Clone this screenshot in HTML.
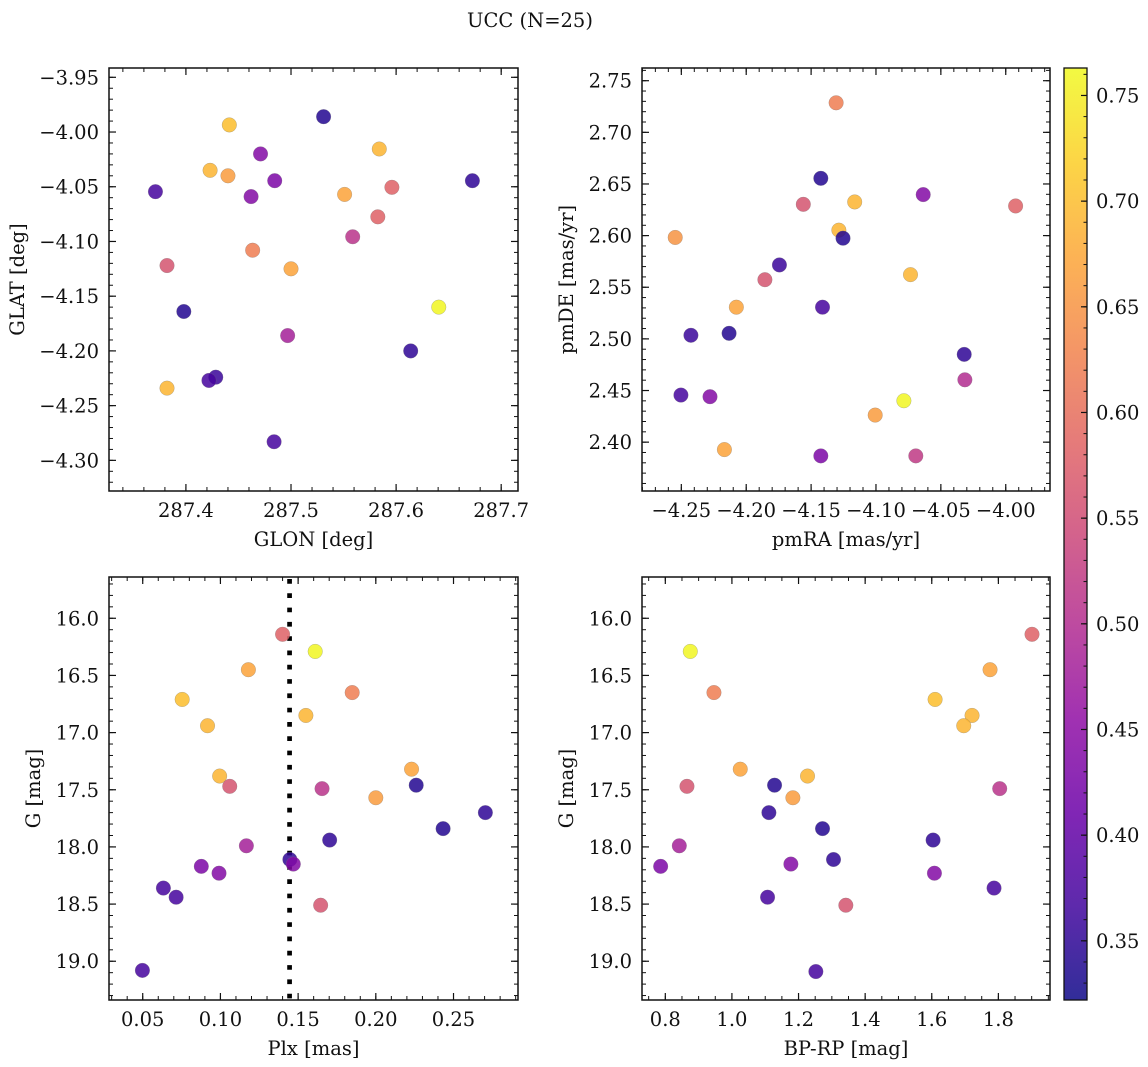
<!DOCTYPE html>
<html><head><meta charset="utf-8"><title>UCC (N=25)</title>
<style>
html,body{margin:0;padding:0;background:#fff;}
svg{display:block;font-family:"DejaVu Serif","Liberation Serif",serif;}
</style></head>
<body>
<svg id="fig" width="1148" height="1067" viewBox="0 0 1148 1067" xmlns="http://www.w3.org/2000/svg">
<text x="530" y="27" text-anchor="middle" font-size="19.5" fill="#111">UCC (N=25)</text>
</svg>
<script>
// ---- Panel 1: GLON / GLAT ----
const glon = [287.4413,287.531,287.584,287.471,287.423,287.440,287.4845,287.371,287.6726,287.596,287.551,287.462,287.5826,287.5587,287.4635,287.382,287.500,287.6406,287.398,287.4968,287.6139,287.4284,287.4219,287.382,287.4839];
const glat = [-3.9935,-3.986,-4.0155,-4.020,-4.035,-4.040,-4.0445,-4.0545,-4.0445,-4.0505,-4.057,-4.059,-4.0775,-4.0957,-4.108,-4.122,-4.125,-4.160,-4.164,-4.186,-4.200,-4.224,-4.227,-4.234,-4.283];
const colPos = [0.70,0.34,0.69,0.44,0.69,0.66,0.43,0.37,0.35,0.58,0.67,0.44,0.58,0.51,0.62,0.56,0.67,0.76,0.34,0.48,0.35,0.36,0.37,0.69,0.37];
const glonTicks = [287.4,287.5,287.6,287.7];
const glatTicks = [-3.95,-4.00,-4.05,-4.10,-4.15,-4.20,-4.25,-4.30];
// ---- Panel 2: pmRA / pmDE ----
const pmra = [-4.1307,-4.1425,-4.0636,-4.1560,-4.1164,-3.9924,-4.2547,-4.1286,-4.1254,-4.1744,-4.1856,-4.0734,-4.2076,-4.1412,-4.2426,-4.2132,-4.0320,-4.0315,-4.2503,-4.2279,-4.0785,-4.1006,-4.2168,-4.1425,-4.0693];
const pmde = [2.7286,2.6555,2.6397,2.6303,2.6326,2.6287,2.5982,2.6053,2.5975,2.5716,2.5573,2.5622,2.5307,2.5307,2.5035,2.5054,2.4850,2.4604,2.4456,2.4440,2.4401,2.4262,2.3928,2.3867,2.3867];
const colPm = [0.62,0.34,0.44,0.56,0.69,0.58,0.65,0.69,0.34,0.36,0.56,0.69,0.67,0.37,0.36,0.34,0.35,0.50,0.37,0.44,0.76,0.66,0.67,0.43,0.52];
const pmraTicks = [-4.25,-4.20,-4.15,-4.10,-4.05,-4.00];
const pmdeTicks = [2.40,2.45,2.50,2.55,2.60,2.65,2.70,2.75];
// ---- Panel 3: Plx / G ----
const plx = [0.140,0.161,0.118,0.0754,0.1848,0.155,0.0917,0.223,0.0995,0.106,0.226,0.1654,0.200,0.2705,0.2433,0.1703,0.1167,0.1447,0.1469,0.0877,0.0991,0.0633,0.0715,0.1645,0.0498];
const gPlx = [16.14,16.29,16.45,16.71,16.65,16.85,16.94,17.32,17.38,17.47,17.46,17.49,17.57,17.70,17.84,17.94,17.99,18.11,18.15,18.17,18.23,18.36,18.44,18.51,19.08];
const colPlx = [0.58,0.76,0.67,0.70,0.62,0.69,0.69,0.67,0.69,0.56,0.34,0.51,0.66,0.35,0.34,0.35,0.48,0.35,0.44,0.43,0.44,0.37,0.37,0.56,0.37];
const plxTicks = [0.05,0.10,0.15,0.20,0.25];
const plxLine = [0.1445];
const gTicks = [16.0,16.5,17.0,17.5,18.0,18.5,19.0];
// ---- Panel 4: BP-RP / G ----
const bprp = [0.875,0.946,0.865,0.842,0.786,1.025,1.128,1.227,1.183,1.111,1.272,1.177,1.305,1.107,1.342,1.252,1.610,1.721,1.696,1.775,1.901,1.804,1.604,1.608,1.787];
const gCmd = [16.29,16.65,17.47,17.99,18.17,17.32,17.46,17.38,17.57,17.70,17.84,18.15,18.11,18.44,18.51,19.09,16.71,16.85,16.94,16.45,16.14,17.49,17.94,18.23,18.36];
const colCmd = [0.76,0.62,0.56,0.48,0.43,0.67,0.34,0.69,0.66,0.35,0.34,0.44,0.35,0.37,0.56,0.37,0.70,0.69,0.69,0.67,0.58,0.51,0.35,0.44,0.37];
const bprpTicks = [0.8,1.0,1.2,1.4,1.6,1.8];
// ---- Colorbar ----
const cbTicks = [0.35,0.40,0.45,0.50,0.55,0.60,0.65,0.70,0.75];
const cbRange = [0.322,0.763];

const FS = 19.5;
const NS = "http://www.w3.org/2000/svg";
const svg = document.getElementById('fig');
function el(tag, attrs, parent){
  const e = document.createElementNS(NS, tag);
  for (const k in attrs) e.setAttribute(k, attrs[k]);
  (parent || svg).appendChild(e);
  return e;
}
const plasma = ["#0d0887","#41049d","#6a00a8","#8f0da4","#b12a90","#cc4778","#e16462","#f2844b","#fca636","#fcce25","#f0f921"];
function hex(h){return [parseInt(h.slice(1,3),16),parseInt(h.slice(3,5),16),parseInt(h.slice(5,7),16)];}
function cmap(v){
  let t = (v - cbRange[0])/(cbRange[1]-cbRange[0]);
  t = Math.max(0, Math.min(1, t));
  const f = t*10, i = Math.min(9, Math.floor(f)), r = f - i;
  const a = hex(plasma[i]), b = hex(plasma[i+1]);
  return "rgb(" + a.map((c,j)=>Math.round(c+(b[j]-c)*r)).join(",") + ")";
}
function fmt(v, d){ const s = Math.abs(v).toFixed(d); return (v < -1e-9 ? "\u2212" : "") + s; }

function panel(p){
  const g = el('g', {});
  
  
  const [x0,y0,x1,y1] = p.box;
  const sx = v => x0 + (v - p.xlim[0])/(p.xlim[1]-p.xlim[0])*(x1-x0);
  const sy = v => y1 - (v - p.ylim[0])/(p.ylim[1]-p.ylim[0])*(y1-y0);
  if (p.vline){
    for (const v of p.vline){
      const l = el('line', {x1:sx(v), x2:sx(v), y1:y0+2, y2:y1, stroke:'#000', 'stroke-width':4.7, 'stroke-dasharray':'4.7 9.6'}, g);
      
      
    }
  }
  for (let i = 0; i < p.xs.length; i++){
    const c = el('circle', {cx:sx(p.xs[i]), cy:sy(p.ys[i]), r:7.3, fill:cmap(p.cs[i]), 'fill-opacity':0.85, stroke:'#777', 'stroke-opacity':0.5, 'stroke-width':0.5}, g);
    
    
  }
  const fr = el('rect', {x:x0, y:y0, width:x1-x0, height:y1-y0, fill:'none', stroke:'#111', 'stroke-width':1.5}, g);
  
  
  const lo = Math.min(p.xlim[0],p.xlim[1]), hi = Math.max(p.xlim[0],p.xlim[1]);
  for (let k = Math.ceil(lo/p.xminor); k*p.xminor <= hi; k++){
    const X = sx(k*p.xminor);
    el('line', {x1:X, x2:X, y1:y1, y2:y1-4, stroke:'#111', 'stroke-width':1}, g);
    el('line', {x1:X, x2:X, y1:y0, y2:y0+4, stroke:'#111', 'stroke-width':1}, g);
  }
  const ylo = Math.min(p.ylim[0],p.ylim[1]), yhi = Math.max(p.ylim[0],p.ylim[1]);
  for (let k = Math.ceil(ylo/p.yminor); k*p.yminor <= yhi; k++){
    const Y = sy(k*p.yminor);
    el('line', {x1:x0, x2:x0+4, y1:Y, y2:Y, stroke:'#111', 'stroke-width':1}, g);
    el('line', {x1:x1, x2:x1-4, y1:Y, y2:Y, stroke:'#111', 'stroke-width':1}, g);
  }
  for (const v of p.xticks){
    const X = sx(v);
    el('line', {x1:X, x2:X, y1:y1, y2:y1-7, stroke:'#111', 'stroke-width':1.2}, g);
    el('line', {x1:X, x2:X, y1:y0, y2:y0+7, stroke:'#111', 'stroke-width':1.2}, g);
    const t = el('text', {x:X, y:y1+26, 'text-anchor':'middle', 'font-size':FS, fill:'#111'}, g);
    t.textContent = fmt(v, p.xdec);
    
    
  }
  for (const v of p.yticks){
    const Y = sy(v);
    el('line', {x1:x0, x2:x0+7, y1:Y, y2:Y, stroke:'#111', 'stroke-width':1.2}, g);
    el('line', {x1:x1, x2:x1-7, y1:Y, y2:Y, stroke:'#111', 'stroke-width':1.2}, g);
    const t = el('text', {x:x0-10, y:Y+7, 'text-anchor':'end', 'font-size':FS, fill:'#111'}, g);
    t.textContent = fmt(v, p.ydec);
    
    
  }
  const xl = el('text', {x:(x0+x1)/2, y:y1+55, 'text-anchor':'middle', 'font-size':FS, fill:'#111'}, g);
  xl.textContent = p.xlabel;
  
  
  const yl = el('text', {x:p.ylabelX, y:(y0+y1)/2, 'text-anchor':'middle', 'font-size':FS, fill:'#111', transform:'rotate(-90 '+p.ylabelX+' '+((y0+y1)/2)+')'}, g);
  yl.textContent = p.ylabel;
  
  
}

panel({name:'galactic-coordinates-panel', box:[109,68,518,491], xlim:[287.3268,287.716], ylim:[-4.328,-3.9415],
  xticks:glonTicks, yticks:glatTicks, xminor:0.02, yminor:0.01, xdec:1, ydec:2,
  xs:glon, ys:glat, cs:colPos, xlabel:'GLON [deg]', ylabel:'GLAT [deg]', ylabelX:24});
panel({name:'proper-motion-panel', box:[642,68,1050,491], xlim:[-4.2803,-3.9659], ylim:[2.3527,2.7623],
  xticks:pmraTicks, yticks:pmdeTicks, xminor:0.01, yminor:0.01, xdec:2, ydec:2,
  xs:pmra, ys:pmde, cs:colPm, xlabel:'pmRA [mas/yr]', ylabel:'pmDE [mas/yr]', ylabelX:573});
panel({name:'parallax-magnitude-panel', box:[109,577,518,1000], xlim:[0.0283,0.2915], ylim:[19.339,15.639],
  xticks:plxTicks, yticks:gTicks, xminor:0.01, yminor:0.1, xdec:2, ydec:1,
  xs:plx, ys:gPlx, cs:colPlx, vline:plxLine, xlabel:'Plx [mas]', ylabel:'G [mag]', ylabelX:40});
panel({name:'color-magnitude-panel', box:[642,577,1050,1000], xlim:[0.73,1.955], ylim:[19.339,15.639],
  xticks:bprpTicks, yticks:gTicks, xminor:0.05, yminor:0.1, xdec:1, ydec:1,
  xs:bprp, ys:gCmd, cs:colCmd, xlabel:'BP-RP [mag]', ylabel:'G [mag]', ylabelX:573});

(function(){
  const cx0 = 1064, cx1 = 1087, cy0 = 68, cy1 = 1000;
  const defs = el('defs', {});
  const lg = el('linearGradient', {id:'cbgrad', x1:0, y1:1, x2:0, y2:0}, defs);
  for (let i = 0; i <= 40; i++){
    const v = cbRange[0] + (cbRange[1]-cbRange[0])*i/40;
    el('stop', {offset:(i/40), 'stop-color':cmap(v), 'stop-opacity':0.85}, lg);
  }
  const g = el('g', {});
  
  
  const r = el('rect', {x:cx0, y:cy0, width:cx1-cx0, height:cy1-cy0, fill:'url(#cbgrad)', stroke:'#111', 'stroke-width':1.3}, g);
  
  
  const sy = v => cy1 - (v - cbRange[0])/(cbRange[1]-cbRange[0])*(cy1-cy0);
  for (let k = Math.ceil(cbRange[0]*100); k <= Math.floor(cbRange[1]*100); k++){
    const Y = sy(k/100);
    el('line', {x1:cx1, x2:cx1-3.5, y1:Y, y2:Y, stroke:'#111', 'stroke-width':1}, g);
  }
  for (const v of cbTicks){
    const Y = sy(v);
    el('line', {x1:cx1, x2:cx1-6, y1:Y, y2:Y, stroke:'#111', 'stroke-width':1.2}, g);
    const t = el('text', {x:cx1+9, y:Y+7, 'font-size':FS, fill:'#111'}, g);
    t.textContent = v.toFixed(2);
    
    
  }
})();
</script>
</body></html>
